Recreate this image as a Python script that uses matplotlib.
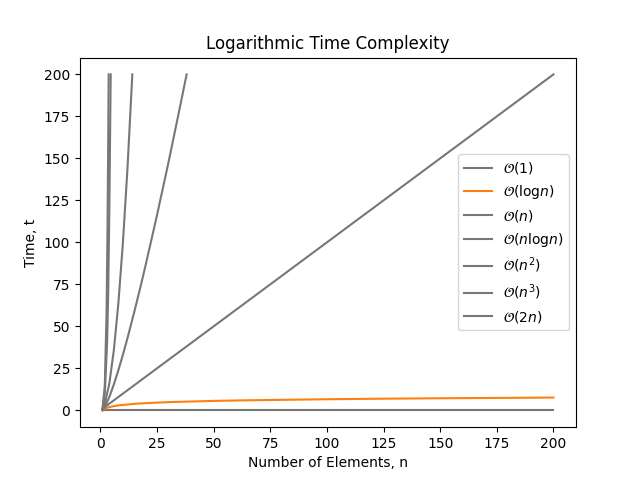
import matplotlib
matplotlib.use("Agg")
import matplotlib.pyplot as plt

# O(1)
const_x = [1, 200]
const_y = [0, 0]
# O(log n)
log_x = [1, 2, 4, 8, 16, 25, 32, 50, 64, 100, 128, 150, 200]
log_y = [0, 1, 2, 3, 4, 4.64, 5, 5.64, 6, 6.64, 7, 7.23, 7.64]
# O(n)
lin_x = [1, 200]
lin_y = [1, 200]
# O(n log n)
nlogn_x = [1, 2, 4, 6, 8, 10, 12, 15, 18, 20, 25, 30, 35, 38.1]
nlogn_y = [0, 2, 8, 15.5, 24, 33.2, 43, 58.6, 75, 86.4, 116, 147, 179.5, 200]
# O(n^2)
sq_x = [1, 2, 4, 6, 8, 10, 12, 14.14]
sq_y = [1, 4, 16, 36, 64, 100, 144, 200]
# O(n^3)
cube_x = [1, 2, 3, 3.5, 4.0, 4.3, 4.6]
cube_y = [1, 10, 40, 70, 120, 160, 200]
# O(2n)
exp_x = [1, 2, 2.8, 3.2, 3.5, 3.7]
exp_y = [1, 15, 60, 110, 160, 200]

labels = [r'$\mathcal{O}(1)$', r'$\mathcal{O}(\mathrm{log}n)$', r'$\mathcal{O}(n)$',
          r'$\mathcal{O}(n\mathrm{log}n)$', r'$\mathcal{O}(n^2)$', r'$\mathcal{O}(n^3)$',
          r'$\mathcal{O}(2n)$']

gray = '#777777'
fig, ax = plt.subplots(figsize=(6.4, 4.8), dpi=100)
ax.plot(const_x, const_y, color=gray, label=labels[0])
ax.plot(log_x, log_y, color='tab:orange', label=labels[1])
ax.plot(lin_x, lin_y, color=gray, label=labels[2])
ax.plot(nlogn_x, nlogn_y, color=gray, label=labels[3])
ax.plot(sq_x, sq_y, color=gray, label=labels[4])
ax.plot(cube_x, cube_y, color=gray, label=labels[5])
ax.plot(exp_x, exp_y, color=gray, label=labels[6])
ax.set_xticks([0, 25, 50, 75, 100, 125, 150, 175, 200])
ax.set_yticks([0, 25, 50, 75, 100, 125, 150, 175, 200])
ax.set_title('Logarithmic Time Complexity')
ax.set_xlabel('Number of Elements, n')
ax.set_ylabel('Time, t')
ax.legend(loc='center right')
fig.savefig('out.png')
